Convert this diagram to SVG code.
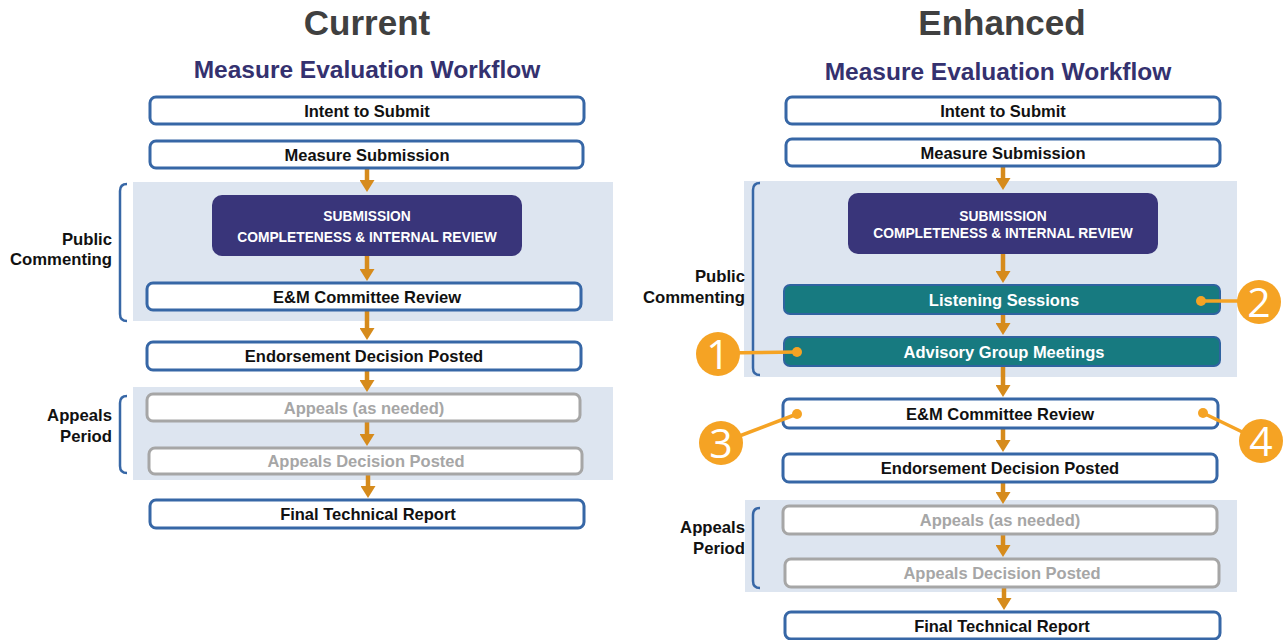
<svg xmlns="http://www.w3.org/2000/svg" width="1287" height="640" viewBox="0 0 1287 640">
<defs>
<marker id="ah" viewBox="0 0 12 15" refX="6" refY="7.5" markerWidth="12" markerHeight="15" markerUnits="userSpaceOnUse" orient="auto">
<path d="M0,0 L12,7.5 L0,15 Z" fill="#d68b1c"/>
</marker>
</defs>
<style>
text{font-family:"Liberation Sans",Arial,sans-serif;font-weight:bold;text-anchor:middle}
.title{font-size:35px;fill:#404040}
.sub{font-size:24.5px;fill:#34316f}
.box{fill:#fff;stroke:#3767a6;stroke-width:3}
.gbox{fill:#fff;stroke:#a6a6a6;stroke-width:3}
.tbox{fill:#177a80;stroke:#2f63a0;stroke-width:2}
.pbox{fill:#39357a}
.lbl{font-size:16.5px;fill:#111}
.glbl{font-size:16.5px;fill:#a6a6a6}
.wlbl{font-size:16.5px;fill:#fff}
.slbl{font-size:13.8px;fill:#fff}
.side{font-size:16.7px;fill:#111;text-anchor:end}
.shade{fill:#dde5f0}
.brk{fill:none;stroke:#3767a6;stroke-width:2.5}
.arr{stroke:#d68b1c;stroke-width:4.5;fill:none}
.cl{stroke:#f5a324;stroke-width:3.5;fill:none}
.cdot{fill:#f5a324}
.num{font-family:"Open Sans",Lato,sans-serif;font-weight:normal;font-size:41px;fill:#fff}
</style>
<rect width="1287" height="640" fill="#fff"/>

<!-- Titles -->
<text class="title" x="367" y="35">Current</text>
<text class="sub" x="367" y="78">Measure Evaluation Workflow</text>
<text class="title" x="1002" y="35">Enhanced</text>
<text class="sub" x="998" y="80">Measure Evaluation Workflow</text>

<!-- Left shaded regions and brackets -->
<rect class="shade" x="133" y="182" width="480" height="139"/>
<rect class="shade" x="133" y="387" width="480" height="93"/>
<path class="brk" d="M127,184 Q120,184 120,191 L120,314 Q120,321 127,321"/>
<path class="brk" d="M127,396 Q120,396 120,403 L120,466 Q120,473 127,473"/>
<text class="side" x="112" y="245">Public</text>
<text class="side" x="112" y="265">Commenting</text>
<text class="side" x="112" y="421">Appeals</text>
<text class="side" x="112" y="442">Period</text>

<!-- Right shaded regions and brackets -->
<rect class="shade" x="744" y="181" width="493" height="196"/>
<rect class="shade" x="745" y="500" width="492" height="92"/>
<path class="brk" d="M760,183 Q753,183 753,190 L753,368 Q753,375 760,375"/>
<path class="brk" d="M760,508 Q753,508 753,515 L753,581 Q753,588 760,588"/>
<text class="side" x="745" y="282">Public</text>
<text class="side" x="745" y="303">Commenting</text>
<text class="side" x="745" y="533">Appeals</text>
<text class="side" x="745" y="554">Period</text>

<!-- Connectors -->
<g id="connectors">
<line class="arr" x1="367" y1="168" x2="367" y2="186" marker-end="url(#ah)"/>
<line class="arr" x1="367" y1="256" x2="367" y2="275" marker-end="url(#ah)"/>
<line class="arr" x1="367" y1="310" x2="367" y2="334" marker-end="url(#ah)"/>
<line class="arr" x1="367" y1="370" x2="367" y2="386" marker-end="url(#ah)"/>
<line class="arr" x1="367" y1="421" x2="367" y2="440" marker-end="url(#ah)"/>
<line class="arr" x1="368" y1="474" x2="368" y2="492" marker-end="url(#ah)"/>

<line class="arr" x1="1003" y1="166" x2="1003" y2="184" marker-end="url(#ah)"/>
<line class="arr" x1="1003" y1="254" x2="1003" y2="277" marker-end="url(#ah)"/>
<line class="arr" x1="1003" y1="314" x2="1003" y2="329" marker-end="url(#ah)"/>
<line class="arr" x1="1003" y1="366" x2="1003" y2="391" marker-end="url(#ah)"/>
<line class="arr" x1="1003" y1="428" x2="1003" y2="446" marker-end="url(#ah)"/>
<line class="arr" x1="1003" y1="482" x2="1003" y2="498" marker-end="url(#ah)"/>
<line class="arr" x1="1003" y1="534" x2="1003" y2="551" marker-end="url(#ah)"/>
<line class="arr" x1="1004" y1="587" x2="1004" y2="604" marker-end="url(#ah)"/>
</g>

<!-- Left nodes -->
<g id="l-intent"><rect class="box" x="150" y="97" width="434" height="27" rx="6"/><text class="lbl" x="367" y="116.5">Intent to Submit</text></g>
<g id="l-measure"><rect class="box" x="150" y="141" width="433" height="27" rx="6"/><text class="lbl" x="367" y="160.5">Measure Submission</text></g>
<g id="l-submission"><rect class="pbox" x="212" y="195" width="310" height="61" rx="10"/><text class="slbl" x="367" y="221">SUBMISSION</text><text class="slbl" x="367" y="242">COMPLETENESS &amp; INTERNAL REVIEW</text></g>
<g id="l-em"><rect class="box" x="147" y="283" width="434" height="27" rx="6"/><text class="lbl" x="367" y="302.5">E&amp;M Committee Review</text></g>
<g id="l-endorse"><rect class="box" x="147" y="342" width="434" height="28" rx="6"/><text class="lbl" x="364" y="362">Endorsement Decision Posted</text></g>
<g id="l-appeals"><rect class="gbox" x="147" y="394" width="433" height="27" rx="6"/><text class="glbl" x="364" y="413.5">Appeals (as needed)</text></g>
<g id="l-appealsdec"><rect class="gbox" x="149" y="448" width="433" height="26" rx="6"/><text class="glbl" x="366" y="467">Appeals Decision Posted</text></g>
<g id="l-final"><rect class="box" x="150" y="500" width="434" height="28" rx="6"/><text class="lbl" x="368" y="520">Final Technical Report</text></g>

<!-- Right nodes -->
<g id="r-intent"><rect class="box" x="786" y="97" width="434" height="27" rx="6"/><text class="lbl" x="1003" y="116.5">Intent to Submit</text></g>
<g id="r-measure"><rect class="box" x="786" y="139" width="434" height="27" rx="6"/><text class="lbl" x="1003" y="158.5">Measure Submission</text></g>
<g id="r-submission"><rect class="pbox" x="848" y="193" width="310" height="61" rx="10"/><text class="slbl" x="1003" y="221">SUBMISSION</text><text class="slbl" x="1003" y="238">COMPLETENESS &amp; INTERNAL REVIEW</text></g>
<g id="r-listening"><rect class="tbox" x="784" y="285" width="436" height="29" rx="6"/><text class="wlbl" x="1004" y="305.5">Listening Sessions</text></g>
<g id="r-advisory"><rect class="tbox" x="784" y="337" width="436" height="29" rx="6"/><text class="wlbl" x="1004" y="357.5">Advisory Group Meetings</text></g>
<g id="r-em"><rect class="box" x="783" y="399" width="435" height="29" rx="6"/><text class="lbl" x="1000" y="419.5">E&amp;M Committee Review</text></g>
<g id="r-endorse"><rect class="box" x="783" y="454" width="434" height="28" rx="6"/><text class="lbl" x="1000" y="474">Endorsement Decision Posted</text></g>
<g id="r-appeals"><rect class="gbox" x="783" y="506" width="434" height="28" rx="6"/><text class="glbl" x="1000" y="526">Appeals (as needed)</text></g>
<g id="r-appealsdec"><rect class="gbox" x="785" y="559" width="434" height="28" rx="6"/><text class="glbl" x="1002" y="579">Appeals Decision Posted</text></g>
<g id="r-final"><rect class="box" x="785" y="612" width="435" height="27" rx="6"/><text class="lbl" x="1002" y="632">Final Technical Report</text></g>

<!-- Callout leaders -->
<g id="callout-leaders">
<line class="cl" x1="718" y1="353" x2="797" y2="352"/>
<circle class="cdot" cx="797" cy="352" r="5"/>
<line class="cl" x1="1259" y1="301" x2="1201" y2="301"/>
<circle class="cdot" cx="1201" cy="301" r="5"/>
<line class="cl" x1="721" y1="443" x2="797" y2="414"/>
<circle class="cdot" cx="797" cy="414" r="5"/>
<line class="cl" x1="1261" y1="441" x2="1203" y2="413"/>
<circle class="cdot" cx="1203" cy="413" r="5"/>
</g>

<!-- Callout badges -->
<g id="badge-1"><circle class="cdot" cx="718" cy="354" r="22"/><text class="num" x="718" y="368.5">1</text></g>
<g id="badge-2"><circle class="cdot" cx="1259" cy="302" r="22"/><text class="num" x="1259" y="316.5">2</text></g>
<g id="badge-3"><circle class="cdot" cx="721" cy="443" r="22"/><text class="num" x="721" y="457.5">3</text></g>
<g id="badge-4"><circle class="cdot" cx="1261" cy="441" r="22"/><text class="num" x="1261" y="455.5">4</text></g>
</svg>
